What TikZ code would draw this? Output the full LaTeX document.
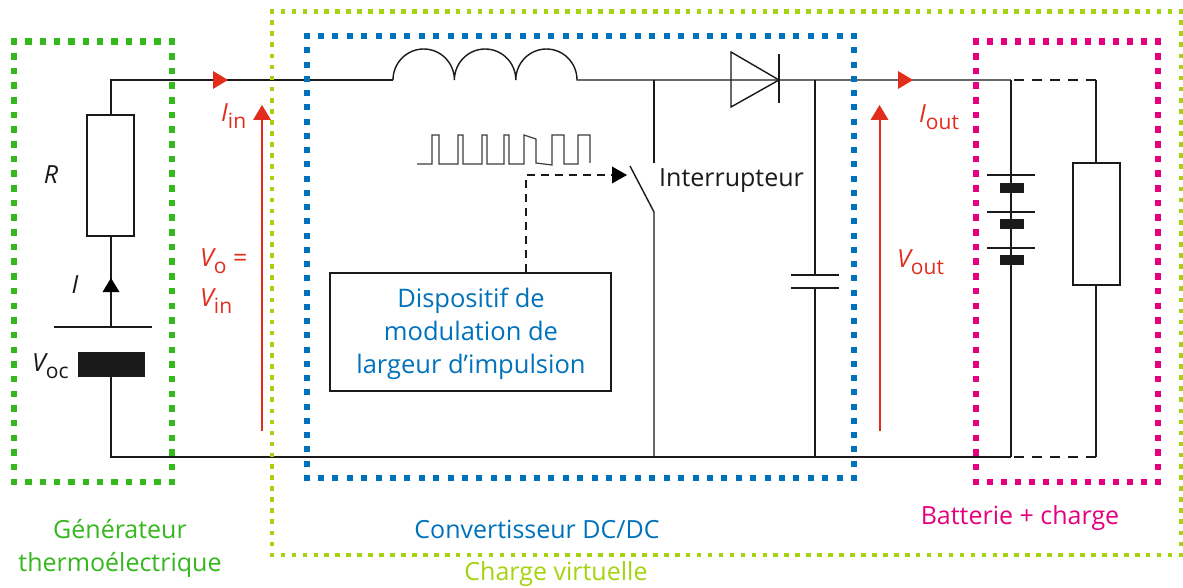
\documentclass[tikz,border=0pt]{standalone}
\usepackage{fontspec}
\setmainfont{Open Sans}
\usetikzlibrary{arrows.meta}
\definecolor{cgreen}{HTML}{35B71E}
\definecolor{clime}{HTML}{A5D30F}
\definecolor{cblue}{HTML}{0072BC}
\definecolor{cpink}{HTML}{E6007E}
\definecolor{cred}{HTML}{E32D1C}
\definecolor{cwire}{HTML}{1A1A1A}
\newcommand{\dotframe}[8]{% x1 y1 x2 y2 colour size nx ny
  \pgfmathsetmacro{\ha}{#6/2}
  \pgfmathsetmacro{\ox}{(#3-#1)/#7-#6}
  \pgfmathsetmacro{\oy}{(#4-#2)/#8-#6}
  \draw[#5,line width=#6pt,dash pattern=on #6pt off \ox pt] (#1-\ha,#2) -- (#3+\ha,#2);
  \draw[#5,line width=#6pt,dash pattern=on #6pt off \ox pt] (#1-\ha,#4) -- (#3+\ha,#4);
  \draw[#5,line width=#6pt,dash pattern=on #6pt off \oy pt] (#1,#2-\ha) -- (#1,#4+\ha);
  \draw[#5,line width=#6pt,dash pattern=on #6pt off \oy pt] (#3,#2-\ha) -- (#3,#4+\ha);
}
\newcommand{\symb}[2]{{\itshape #1}\raisebox{-0.28em}{\fontsize{21}{24}\selectfont #2}}
\tikzset{
  wire/.style={draw=cwire,line width=1.8pt},
  thinwire/.style={draw=cwire,line width=1.4pt},
  loaddash/.style={draw=cwire,line width=1.4pt,dash pattern=on 10.5pt off 7.5pt},
  box/.style={draw=cwire,line width=1.9pt,fill=white,inner sep=0pt,minimum width=#1},
  plate/.style={draw=cwire,line width=1.6pt},
  cell/.style={fill=cwire,inner sep=0pt},
  redlabel/.style={text=cred,font=\fontsize{25}{28}\selectfont,inner sep=0pt,anchor=west},
  blacklabel/.style={text=cwire,font=\fontsize{25}{28}\selectfont,inner sep=0pt},
  caption/.style={font=\fontsize{25}{33}\selectfont,inner sep=0pt,align=center},
  redflow/.style={draw=cred,line width=2pt},
  tipred/.style={fill=cred,draw=none},
  tipblack/.style={fill=black,draw=none},
}
\begin{document}
\begin{tikzpicture}[x=1pt,y=-1pt]
\useasboundingbox (0,0) rectangle (1183,588);
\fill[white] (0,0) rectangle (1183,588);

% named junctions
\coordinate (tl) at (111,80);
\coordinate (bl) at (111,457);
\coordinate (l1) at (393,80);
\coordinate (l2) at (577,80);
\coordinate (sw) at (654,80);
\coordinate (swb) at (654,457);
\coordinate (swopen) at (654,163);
\coordinate (bladeT) at (630,166);
\coordinate (bladeB) at (654,212);
\coordinate (dK) at (779,80);
\coordinate (ct) at (815,80);
\coordinate (cb) at (815,457);
\coordinate (cp1) at (815,275);
\coordinate (cp2) at (815,288);
\coordinate (bt) at (1011,80);
\coordinate (bb) at (1011,457);
\coordinate (rt) at (1096,80);
\coordinate (rb) at (1096,457);

% nodes
\node[box=47pt,minimum height=121pt] (R) at (110.5,175.5) {};
\node[box=47pt,minimum height=122pt] (Rload) at (1096.5,224) {};
\node[cell,minimum width=67pt,minimum height=25pt] (Voc) at (111.5,364.5) {};
\node[cell,minimum width=24pt,minimum height=10pt] (c1) at (1012,188) {};
\node[cell,minimum width=24pt,minimum height=10pt] (c2) at (1012,224) {};
\node[cell,minimum width=24pt,minimum height=10pt] (c3) at (1012,260) {};
\coordinate (p0) at (111,327);
\coordinate (p1) at (1011,175);
\coordinate (p2) at (1011,212);
\coordinate (p3) at (1011,248);

% wires
\draw[thinwire] (R.north -| tl) -- (tl) -- (l1);
\draw[thinwire] (l1) arc[start angle=180,end angle=0,x radius=30.7pt,y radius=31pt]
  arc[start angle=180,end angle=0,x radius=30.7pt,y radius=31pt]
  arc[start angle=180,end angle=0,x radius=30.6pt,y radius=31pt] -- (bt);
\draw[wire] (R.south -| tl) -- (p0);
\draw[wire] (Voc.south -| bl) -- (bl) -- (bb);
\draw[wire] (sw) -- (swopen);
\draw[thinwire] (bladeT) -- (bladeB) -- (swb);
\draw[thinwire] (731,52) -- (dK) -- (731,107) -- cycle;
\draw[wire] (779,54) -- (779,103);
\draw[wire] (ct) -- (cp1);
\draw[wire] (cp2) -- (cb);
\draw[plate] (791,275) -- (839,275);
\draw[plate] (791,288) -- (839,288);
\draw[wire] (bt) -- (p1);
\draw[wire] (p1) -- (c1.north -| p1);
\draw[wire] (c1.south -| p1) -- (p2);
\draw[wire] (p2) -- (c2.north -| p2);
\draw[wire] (c2.south -| p2) -- (p3);
\draw[wire] (p3) -- (c3.north -| p3);
\draw[wire] (c3.south -| bb) -- (bb);
\draw[loaddash] (rt) -- (bt);
\draw[thinwire] (rt) -- (Rload.north -| rt);
\draw[wire] (Rload.south -| rt) -- (rb);
\draw[loaddash] (rb) -- (bb);
\draw[plate] (54,327) -- (152,327);
\draw[plate] (987,175) -- (1035,175);
\draw[plate] (987,212) -- (1035,212);
\draw[plate] (987,248) -- (1035,248);

% current arrow on source branch
\fill[tipblack] (111,278) -- (119.5,292) -- (102.5,292) -- cycle;

% pulse train
\draw[draw=cwire!85,line width=1.2pt] (417,164) -- (432,164) -- (432,135) -- (439,135) -- (439,164) -- (458,164) -- (458,135) -- (463,135) -- (463,164) -- (482,164) -- (482,135) -- (487,135) -- (487,164) -- (504,164) -- (504,135) -- (509,135) -- (509,164) -- (524,164) -- (524,135) -- (536,139) -- (536,163) -- (552,165) -- (552,135) -- (564,135) -- (564,164) -- (578,164) -- (578,135) -- (590,135) -- (590,163);

% modulator box and control link
\node[draw=cwire,line width=1.9pt,fill=white,minimum width=281pt,minimum height=118pt,inner sep=0pt] (pwm) at (470.5,332) {};
\node[text=cblue,font=\fontsize{25.5}{33}\selectfont,align=center,inner sep=0pt] (pwmtext) at (471,333.5)
  {Dispositif de\\modulation de\\largeur d’impulsion};
\coordinate (ctl) at (526,175);
\coordinate (tipc) at (627,175);
\draw[draw=cwire,line width=1.1pt,dash pattern=on 8pt off 6pt] (pwm.north -| ctl) -- (ctl) -- (612,175);
\fill[tipblack] (tipc) -- (612,166.5) -- (612,183.5) -- cycle;

% red voltage and current arrows
\coordinate (vin0) at (262,431);
\coordinate (vin1) at (262,118);
\coordinate (vou0) at (879.5,431);
\coordinate (vou1) at (879.5,118);
\draw[redflow] (vin0) -- (vin1);
\draw[redflow] (vou0) -- (vou1);
\fill[tipred] (262,105) -- (271,120) -- (253,120) -- cycle;
\fill[tipred] (879.5,105) -- (888.5,120) -- (870.5,120) -- cycle;
\fill[tipred] (228,80) -- (213,71) -- (213,89) -- cycle;
\fill[tipred] (913,80) -- (898,71) -- (898,89) -- cycle;

% dotted frames
\dotframe{272}{11.5}{1181}{555}{clime}{4.6}{83}{49}
\dotframe{306.5}{36}{854}{478}{cblue}{6}{38}{31}
\dotframe{14}{41.7}{172}{481.7}{cgreen}{6.4}{11}{30}
\dotframe{976}{41.7}{1158}{481.7}{cpink}{6.4}{13}{30}

% labels
\node[blacklabel] (lR) at (51,175) {\itshape R};
\node[blacklabel] (lI) at (75,285) {\itshape I};
\node[blacklabel,anchor=west] (lVoc) at (32,366) {\symb{V}{oc}};
\node[redlabel] (lIin) at (221,116) {\symb{I}{in}};
\node[redlabel] (lVo) at (200,261) {\symb{V}{o} =};
\node[redlabel] (lVin) at (200,301) {\symb{V}{in}};
\node[redlabel] (lIout) at (919,117) {\symb{I}{out}};
\node[redlabel] (lVout) at (897,262) {\symb{V}{out}};
\node[blacklabel,anchor=west] (lsw) at (659,180.5) {Interrupteur};
\node[caption,text=cgreen] (cgen) at (120,548) {Générateur\\thermoélectrique};
\node[caption,text=cblue] (cconv) at (537,529) {Convertisseur DC/DC};
\node[caption,text=cpink] (cbat) at (1020,518) {Batterie + charge};
\node[caption,text=clime] (cvirt) at (556,574) {Charge virtuelle};
\end{tikzpicture}
\end{document}
